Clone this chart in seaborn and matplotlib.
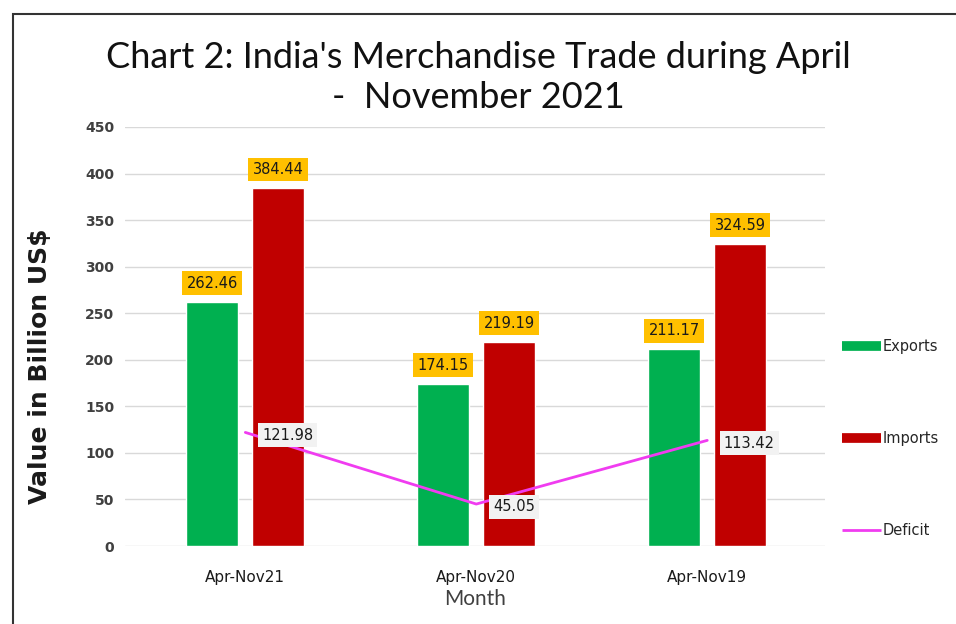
import numpy as np
import pandas as pd
import matplotlib
matplotlib.use('Agg')
import matplotlib.pyplot as plt
from matplotlib.lines import Line2D
from matplotlib.patches import Rectangle
import seaborn as sns

# data
months = ['Apr-Nov21', 'Apr-Nov20', 'Apr-Nov19']
exports = [262.46, 174.15, 211.17]
imports = [384.44, 219.19, 324.59]
deficit = [121.98, 45.05, 113.42]

green = '#00B050'
red = '#C00000'
magenta = '#F03CF0'

df = pd.DataFrame({
    'Month': months * 2,
    'Value': exports + imports,
    'Type': ['Exports'] * 3 + ['Imports'] * 3,
})

sns.set_style('white')
plt.rcParams['font.family'] = ['DejaVu Sans']

fig = plt.figure(figsize=(9.56, 6.24), dpi=100)
ax = fig.add_axes([0.131, 0.125, 0.732, 0.6715])

sns.barplot(data=df, x='Month', y='Value', hue='Type', order=months,
            palette=[green, red], width=0.57, gap=0.21, saturation=1,
            legend=False, ax=ax)
sns.lineplot(x=np.arange(len(months)), y=deficit, color=magenta,
             linewidth=2, ax=ax)

# orange value boxes above bars
for cont in ax.containers:
    for bar in cont:
        h = bar.get_height()
        ax.annotate(f'{h:.2f}', (bar.get_x() + bar.get_width() / 2, h),
                    xytext=(0, 8), textcoords='offset points',
                    ha='center', va='bottom', fontsize=10.5, color='#1a1a1a',
                    bbox=dict(boxstyle='square,pad=0.3', fc='#FFC000', ec='none'))

# deficit labels
for i, d in enumerate(deficit):
    ax.annotate(f'{d:.2f}', (i, d), xytext=(12, -2), textcoords='offset points',
                ha='left', va='center', fontsize=10.5, color='#1a1a1a',
                bbox=dict(boxstyle='square,pad=0.3', fc='#F2F2F2', ec='none'))

ax.set_ylim(0, 450)
ax.set_xlim(-0.52, 2.51)
ax.set_yticks(range(0, 451, 50))
ax.yaxis.grid(True, color='#D9D9D9', linewidth=1)
ax.set_axisbelow(True)
sns.despine(ax=ax, left=True, bottom=True)
ax.tick_params(axis='y', length=0, pad=8, labelsize=10, labelcolor='#404040')
ax.tick_params(axis='x', length=0, pad=17, labelsize=11, labelcolor='#1a1a1a')
for t in ax.get_yticklabels():
    t.set_fontweight('bold')

ax.set_xlabel('Month', fontsize=15, color='#404040', labelpad=3,
              family=['Lato', 'DejaVu Sans'])
ax.set_ylabel('Value in Billion US$', fontsize=18, fontweight='bold', color='#1a1a1a')
ax.yaxis.set_label_coords(-0.104, 0.43)

fig.text(0.5, 0.876, "Chart 2: India's Merchandise Trade during April\n-  November 2021",
         ha='center', va='center', fontsize=26, linespacing=1.25,
         family=['Lato', 'DejaVu Sans'], color='#111111')

handles = [Line2D([], [], color=green, linewidth=7, solid_capstyle='butt'),
           Line2D([], [], color=red, linewidth=7, solid_capstyle='butt'),
           Line2D([], [], color=magenta, linewidth=2, solid_capstyle='butt')]
fig.legend(handles, ['Exports', 'Imports', 'Deficit'], loc='center left',
           bbox_to_anchor=(0.867, 0.297), frameon=False, fontsize=10.5,
           labelspacing=5.3, handlelength=2.7, handletextpad=0.1)

# outer frame
fig.patches.append(Rectangle((0.0136, -0.05), 1.2, 1.0276, transform=fig.transFigure,
                             fill=False, ec='#333333', lw=1.5))

fig.savefig('out.png', dpi=100)
